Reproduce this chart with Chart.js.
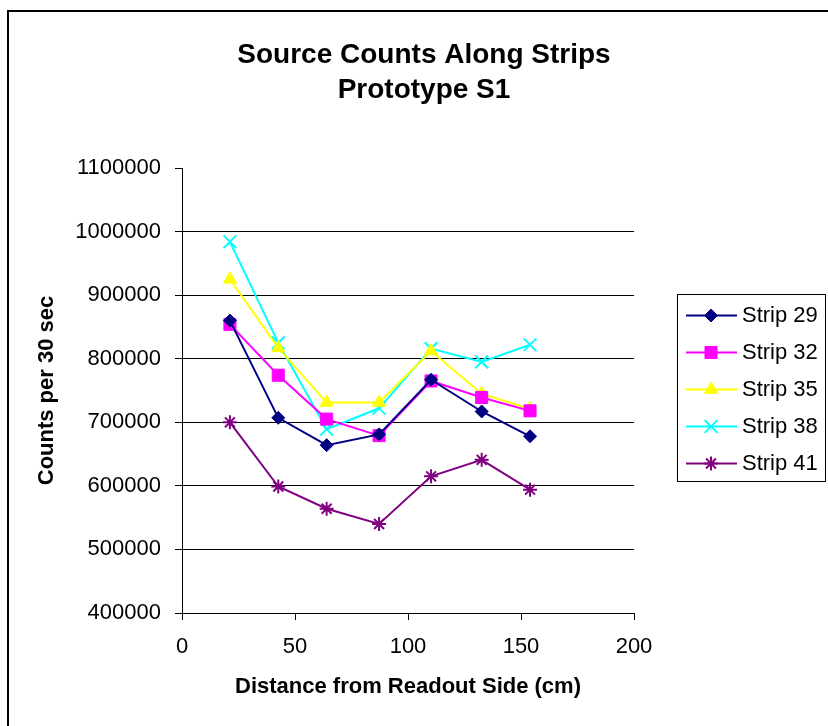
<!DOCTYPE html>
<html>
<head>
<meta charset="utf-8">
<title>Source Counts Along Strips</title>
<script src="https://cdn.jsdelivr.net/npm/chart.js"></script>
<style>
  body { margin: 0; background: #fff; }
  canvas { display: block; }
</style>
</head>
<body>
<canvas id="countsChart" width="828" height="726"></canvas>
<script>
// source position, distance from the readout side (cm)
const distance = [21.2, 42.6, 64.0, 87.2, 110.2, 132.6, 154.0];

// counts per 30 sec along each strip
const strip29 = [860000, 707000, 664000, 681000, 767000, 717000, 678000];
const strip32 = [854000, 774000, 705000, 679000, 765000, 739000, 718000];
const strip35 = [925000, 817000, 731000, 731000, 812000, 745000, 721000];
const strip38 = [984000, 825000, 689000, 722000, 816000, 795000, 822000];
const strip41 = [700000, 599000, 564000, 540000, 615000, 641000, 594000];

const stripNames = ["Strip 29", "Strip 32", "Strip 35", "Strip 38", "Strip 41"];
const xTicks = [0, 50, 100, 150, 200];
const yTicks = [400000, 500000, 600000, 700000, 800000, 900000, 1000000, 1100000];
const titleLines = ["Source Counts Along Strips", "Prototype S1"];

const FONT = '"Liberation Sans", Arial, sans-serif';
Chart.defaults.font.family = FONT;
Chart.defaults.font.size = 22;
Chart.defaults.color = "#000";

function points(values) {
  return distance.map((d, i) => ({ x: d, y: values[i] }));
}

function series(label, values, color, style, radius, width) {
  return {
    label: label,
    data: points(values),
    borderColor: color,
    borderWidth: 2,
    pointStyle: style,
    pointRadius: radius,
    pointBackgroundColor: color,
    pointBorderColor: color,
    pointBorderWidth: width,
    tension: 0,
  };
}

// frame, title and the boxed legend on the right
const sheetFrame = {
  id: "sheetFrame",
  afterDraw(chart) {
    const ctx = chart.ctx;
    ctx.save();
    ctx.strokeStyle = "#000";
    ctx.lineWidth = 2;
    ctx.strokeRect(8, 11, 900, 900);

    ctx.fillStyle = "#000";
    ctx.font = "bold 28px " + FONT;
    ctx.textAlign = "center";
    ctx.textBaseline = "alphabetic";
    titleLines.forEach((t, i) => ctx.fillText(t, 424, 63 + i * 34.5));

    ctx.lineWidth = 1;
    ctx.strokeRect(677.5, 294.5, 148, 187);
    ctx.font = "22px " + FONT;
    ctx.textAlign = "left";
    ctx.textBaseline = "middle";
    chart.data.datasets.forEach((ds, i) => {
      const y = 315.5 + i * 37;
      ctx.strokeStyle = ds.borderColor;
      ctx.lineWidth = 2;
      ctx.beginPath();
      ctx.moveTo(686, y);
      ctx.lineTo(737, y);
      ctx.stroke();
      ctx.fillStyle = ds.pointBackgroundColor;
      ctx.strokeStyle = ds.pointBorderColor;
      ctx.lineWidth = ds.pointBorderWidth;
      Chart.helpers.drawPoint(ctx, {
        pointStyle: ds.pointStyle,
        radius: ds.pointRadius,
        borderWidth: ds.pointBorderWidth,
        rotation: 0,
      }, 711, y);
      ctx.fillStyle = "#000";
      ctx.fillText(ds.label, 742, y);
    });
    ctx.restore();
  },
};

const ctx = document.getElementById("countsChart").getContext("2d");
const countsChart = new Chart(ctx, {
  type: "line",
  data: {
    datasets: [
      series(stripNames[0], strip29, "#000080", "rectRot", 6.5, 1),
      series(stripNames[1], strip32, "#FF00FF", "rect", 8.5, 1),
      series(stripNames[2], strip35, "#FFFF00", "triangle", 7.5, 1),
      series(stripNames[3], strip38, "#00FFFF", "crossRot", 9, 2),
      series(stripNames[4], strip41, "#800080", "star", 7, 2),
    ],
  },
  options: {
    responsive: false,
    animation: false,
    events: [],
    layout: { padding: { top: 168, right: 194, bottom: 0, left: 0 } },
    plugins: {
      legend: { display: false },
      title: { display: false },
      tooltip: { enabled: false },
    },
    scales: {
      x: {
        type: "linear",
        min: 0,
        max: 200,
        afterBuildTicks: (s) => { s.ticks = xTicks.map((v) => ({ value: v })); },
        afterFit: (s) => { s.height = 113; },
        grid: { drawOnChartArea: false, tickLength: 7, tickColor: "#000" },
        border: { color: "#000", width: 1 },
        ticks: { padding: 14, maxRotation: 0 },
        title: {
          display: true,
          text: "Distance from Readout Side (cm)",
          font: { size: 22, weight: "bold" },
          padding: { top: 0, bottom: 26 },
        },
      },
      y: {
        min: 400000,
        max: 1100000,
        afterBuildTicks: (s) => { s.ticks = yTicks.map((v) => ({ value: v })); },
        afterFit: (s) => { s.width = 182; },
        grid: {
          color: (c) => (c.tick && c.tick.value === 1100000 ? "rgba(0,0,0,0)" : "#000"),
          tickLength: 7,
          tickColor: "#000",
        },
        border: { color: "#000", width: 1 },
        ticks: { padding: 14, callback: (v) => String(v) },
        title: {
          display: true,
          text: "Counts per 30 sec",
          font: { size: 22, weight: "bold" },
          padding: { top: 34, bottom: 0 },
        },
      },
    },
  },
  plugins: [sheetFrame],
});
</script>
</body>
</html>
